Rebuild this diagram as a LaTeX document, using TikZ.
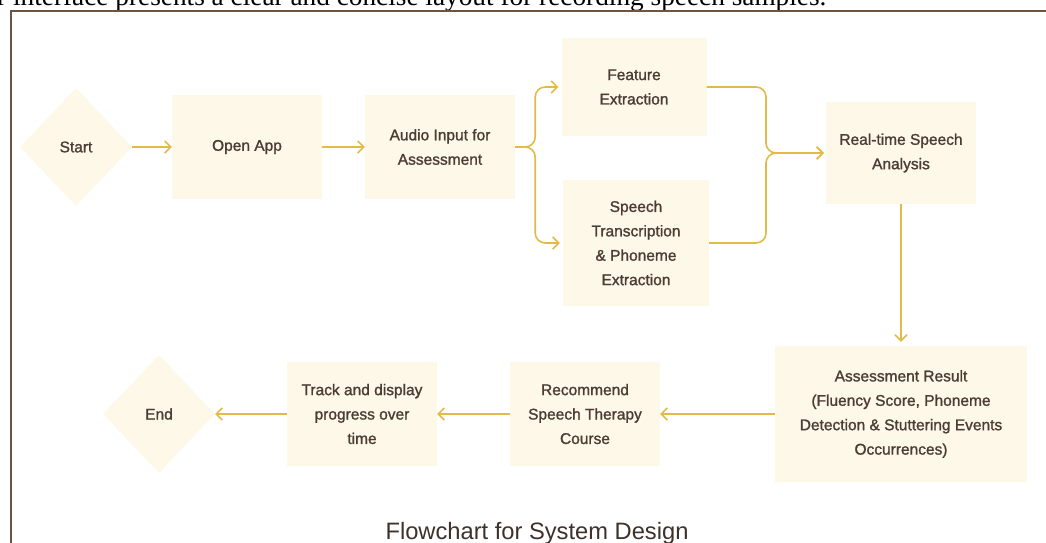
\documentclass[tikz,border=0pt]{standalone}
\usepackage{fontspec}
\setmainfont{Liberation Sans}
\newfontfamily\boxfont{Liberation Sans}[FakeBold=1.3]
\newfontfamily\bodyfont{Liberation Serif}
\usetikzlibrary{shapes.geometric,arrows.meta}

\definecolor{cream}{RGB}{253,248,231}
\definecolor{gold}{RGB}{226,186,74}
\definecolor{ink}{RGB}{76,61,52}
\definecolor{framebrown}{RGB}{110,85,65}

\tikzset{
  box/.style={fill=cream, text=ink, align=center, inner sep=0pt,
    minimum width=150pt, minimum height=104pt,
    font=\boxfont\fontsize{15.5}{24.4}\selectfont},
  decision/.style={box, diamond, minimum width=112pt, minimum height=118pt},
  flow/.style={draw=gold, line width=1.6pt, -{Straight Barb[length=6pt,width=12pt]}},
  heading/.style={text=ink!80!black, anchor=base, font=\fontsize{23.7}{28}\selectfont},
}

\begin{document}
\begin{tikzpicture}[x=1pt, y=1pt, node distance=171pt]
\useasboundingbox (0,0) rectangle (1046,542);
\node [anchor=base west, inner sep=0pt, font=\bodyfont\fontsize{27.3}{30}\selectfont] (intro) at (-3,536)
  {r interface presents a clear and concise layout for recording speech samples.};
\draw [framebrown, line width=2pt] (11,-5) |- (1052,531);

% top row
\node [decision] (start) at (76,395) {Start};
\node [box, right of=start] (open) {Open App};
\node [box, right of=open, node distance=193pt] (audio) {Audio Input for\\Assessment};
\node [box, minimum width=145pt, minimum height=98pt] (feat) at (634,455) {Feature\\Extraction};
\node [box, minimum width=146pt, minimum height=126pt] (trans) at (636,299) {Speech\\Transcription\\\& Phoneme\\Extraction};
\node [box, minimum height=102pt] (rta) at (901,389) {Real-time Speech\\Analysis};
\coordinate (join) at (766,389);

% bottom row
\node [box, below of=rta, node distance=261pt, minimum width=252pt, minimum height=136pt] (result)
  {Assessment Result\\(Fluency Score, Phoneme\\Detection \& Stuttering Events\\Occurrences)};
\node [box, left of=result, node distance=316pt] (recom) {Recommend\\Speech Therapy\\Course};
\node [box, left of=recom, node distance=223pt] (track) {Track and display\\progress over\\time};
\node [decision, left of=track, node distance=203pt] (end) {End};

\node [heading] (title) at (537,3) {Flowchart for System Design};

\draw [flow] (start) -- (open);
\draw [flow] (open) -- (audio);
\draw [flow, rounded corners=10pt, shorten >=3pt] (audio.east) -- ++(20,0) |- (feat.west);
\draw [flow, rounded corners=10pt, shorten >=3pt] (audio.east) -- ++(20,0) |- (trans.west);
\draw [flow, rounded corners=10pt, shorten >=2pt] (feat.east) -| (join) -- (rta.west);
\draw [flow, rounded corners=10pt, shorten >=2pt] (trans.east) -| (join) -- (rta.west);
\draw [flow, shorten >=4pt] (rta) -- (result);
\draw [flow] (result) -- (recom);
\draw [flow] (recom) -- (track);
\draw [flow] (track) -- (end);
\end{tikzpicture}
\end{document}
